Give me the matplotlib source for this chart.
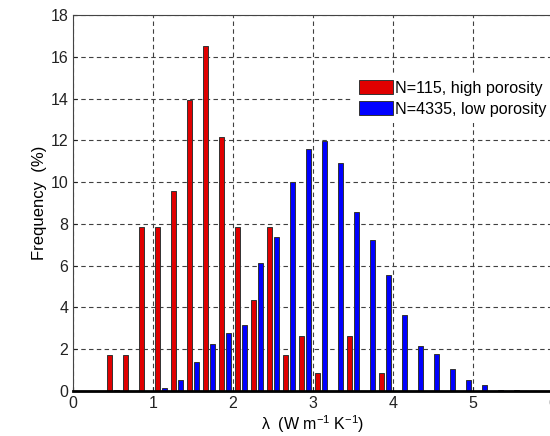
import numpy as np
import matplotlib.pyplot as plt

plt.rcParams['font.family'] = ['Liberation Sans', 'DejaVu Sans']
plt.rcParams['mathtext.fontset'] = 'custom'
plt.rcParams['mathtext.rm'] = 'Liberation Sans'

# thermal conductivity bin centres (W m-1 K-1)
lam = [0.5, 0.7, 0.9, 1.1, 1.3, 1.5, 1.7, 1.9, 2.1, 2.3, 2.5, 2.7, 2.9,
       3.1, 3.3, 3.5, 3.7, 3.9, 4.1, 4.3, 4.5, 4.7, 4.9, 5.1, 5.3, 5.5]

# frequency in % per bin
high_por = [1.74, 1.74, 7.83, 7.83, 9.57, 13.91, 16.52, 12.17, 7.83, 4.35, 7.83, 1.74, 2.61,
            0.87, 0.0, 2.61, 0.0, 0.87, 0, 0, 0, 0, 0, 0, 0, 0]
low_por = [0.05, 0.02, 0.0, 0.15, 0.55, 1.41, 2.25, 2.8, 3.17, 6.14, 7.37, 10.0, 11.57,
           11.97, 10.93, 8.59, 7.25, 5.57, 3.65, 2.16, 1.76, 1.06, 0.53, 0.27, 0.05, 0.05]

labels = ['N=115, high porosity', 'N=4335, low porosity']

fig = plt.figure(figsize=(5.5, 4.36), dpi=100)
ax = fig.add_axes([73/550, 45/436, 480/550, 376/436])

x = np.array(lam)
w = 0.072
ax.bar(x - 0.045, high_por, w, color='#e00000', edgecolor='#333333', linewidth=0.7,
       label=labels[0], zorder=3)
ax.bar(x + 0.045, low_por, w, color='#0000ff', edgecolor='#333333', linewidth=0.7,
       label=labels[1], zorder=3)

ax.set_xlim(0, 6)
ax.set_ylim(0, 18)
ax.set_xticks(range(0, 7))
ax.set_yticks(range(0, 19, 2))
ax.grid(True, color='0.25', linestyle=(0, (4, 3)), linewidth=0.8, zorder=0)
ax.tick_params(direction='in', length=3, labelsize=11.5, colors='#222222')
for s in ax.spines.values():
    s.set_color('#444444')
    s.set_linewidth(0.8)
ax.spines['bottom'].set_color('black')
ax.spines['bottom'].set_linewidth(2)
ax.spines['bottom'].set_zorder(4)

ax.set_xlabel('λ  (W m$^{-1}$ K$^{-1}$)', fontsize=11.5, labelpad=2)
ax.set_ylabel('Frequency  (%)', fontsize=12, labelpad=2)

leg = ax.legend(loc='upper left', bbox_to_anchor=(353/550, 1 - 74/436),
                bbox_transform=fig.transFigure, fontsize=11.6, frameon=True,
                fancybox=False, edgecolor='none', facecolor='white', framealpha=1,
                borderpad=0.4, borderaxespad=0, handlelength=2.1, handleheight=0.9,
                handletextpad=0.1, labelspacing=0.35)
for p in leg.get_patches():
    p.set_edgecolor('#333333')

fig.savefig('out.png', dpi=100)
